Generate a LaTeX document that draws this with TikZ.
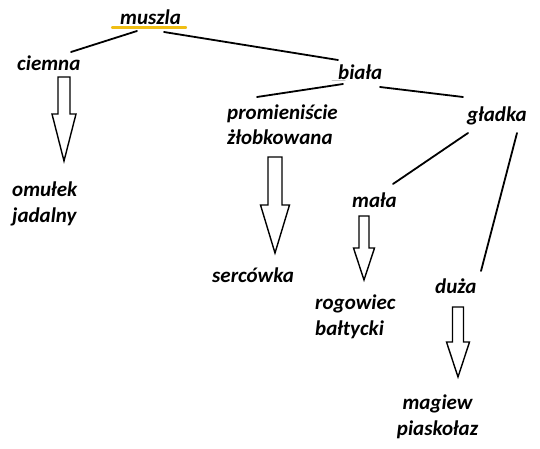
\documentclass[tikz,border=0pt]{standalone}
\usepackage{fontspec}
\setmainfont{Carlito}
\usetikzlibrary{calc}
\definecolor{podkreslenie}{RGB}{240,190,20}
% #1 top, #2 tip, #3 shaft half width, #4 head half width, #5 head length
\newcommand{\strzalka}[5]{%
\draw[big arrow] let \p1=(#1), \p2=(#2) in
 (\x1-#3pt,\y1) -- (\x1+#3pt,\y1) -- (\x1+#3pt,\y2+#5pt) -- (\x1+#4pt,\y2+#5pt)
 -- (\x2,\y2) -- (\x1-#4pt,\y2+#5pt) -- (\x1-#3pt,\y2+#5pt) -- cycle;}
\begin{document}
\begin{tikzpicture}[x=1pt, y=-1pt, line cap=round, branch/.style={line width=1.8pt}, big arrow/.style={line width=1.4pt,line join=miter}, word node/.style={inner sep=0pt,anchor=base west,align=left,font=\bfseries\itshape\fontsize{21}{25.5}\selectfont}]
\useasboundingbox (0,0) rectangle (540,449);
\begin{scope}[every node/.style={word node}]
\node (muszla) at (120,25) {muszla};%0
\node (ciemna) at (17,71) {ciemna};%1
\node (biala) at (338,80) {biała};%1
\node (promien) at (227,145) {promieniście\\żłobkowana};%2
\node (gladka) at (467,122) {gładka};%2
\node (omulek) at (12,222) {omułek\\jadalny};
\node (sercowka) at (212,282) {sercówka};
\node (mala) at (352,207) {mała};%3
\node (rogowiec) at (315,335) {rogowiec\\bałtycki};
\node (duza) at (435,293) {duża};%3
\node[anchor=base,align=center] (magiew) at (437.5,435) {magiew\\piaskołaz};
\end{scope}
\begin{scope}
\draw[podkreslenie, line width=2.2pt] ($(muszla.base west)+(-8,2.5)$) -- ($(muszla.base east)+(5,2.5)$);
\draw[gray!45, line width=1pt] ($(biala.base west)+(-6,1)$) -- ($(biala.base west)+(7,1)$);
\draw[branch] ($(muszla.base west)+(17,6)$) -- ($(ciemna.base west)+(54,-19)$);
\draw[branch] ($(muszla.base west)+(44,7)$) -- ($(biala.base west)+(0,-20)$);
\draw[branch] ($(biala.base west)+(5,4)$) -- ($(promien.base west)+(30,-48)$);
\draw[branch] ($(biala.base west)+(42,7)$) -- ($(gladka.base west)+(-4,-25)$);
\draw[branch] ($(gladka.base west)+(1,11)$) -- ($(mala.base west)+(41,-23)$);
\draw[branch] ($(gladka.base west)+(50,11)$) -- ($(duza.base west)+(46,-22)$);
%\draw[branch] () -- ();
\end{scope}
\begin{scope}
\coordinate (s1) at (64,77); \coordinate (t1) at (64,161);
\coordinate (s2) at (275,157); \coordinate (t2) at (275,253);
\coordinate (s3) at (364,216); \coordinate (t3) at (364,280);
\coordinate (s4) at (458,307); \coordinate (t4) at (458,377);
\strzalka{s1}{t1}{6}{12}{47}%ciemna
\strzalka{s2}{t2}{7}{14.5}{48}%promieniscie
\strzalka{s3}{t3}{5}{10.5}{32}%mala
\strzalka{s4}{t4}{5.5}{11.5}{35}%duza
\end{scope}
\end{tikzpicture}
\end{document}
